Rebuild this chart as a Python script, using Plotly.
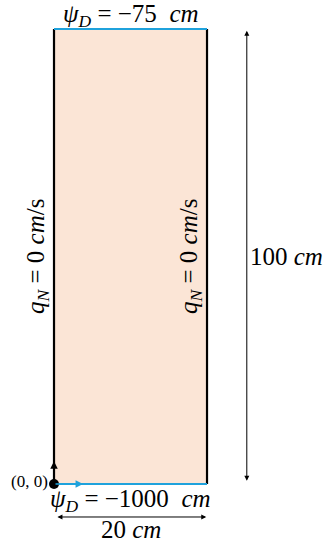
import plotly.graph_objects as go

# Domain data
domain_width = 20      # cm
domain_height = 100    # cm
psi_top = -75          # cm
psi_bottom = -1000     # cm
q_side = 0             # cm/s

rect_x = [0, domain_width, domain_width, 0, 0]
rect_y = [0, 0, domain_height, domain_height, 0]

FILL = "#fbe5d6"
BLUE = "#1fa2dc"
SERIF = "Liberation Serif"

fig = go.Figure()

fig.add_trace(go.Scatter(x=rect_x, y=rect_y, fill="toself", fillcolor=FILL,
                         mode="lines", line=dict(width=0), hoverinfo="skip"))
fig.add_trace(go.Scatter(x=[0, 0], y=[0, domain_height], mode="lines",
                         line=dict(color="black", width=2.2), hoverinfo="skip"))
fig.add_trace(go.Scatter(x=[domain_width, domain_width], y=[0, domain_height], mode="lines",
                         line=dict(color="black", width=2.2), hoverinfo="skip"))
fig.add_trace(go.Scatter(x=[0, domain_width], y=[domain_height, domain_height], mode="lines",
                         line=dict(color=BLUE, width=2.2), hoverinfo="skip"))
fig.add_trace(go.Scatter(x=[0, domain_width], y=[0, 0], mode="lines",
                         line=dict(color=BLUE, width=2.2), hoverinfo="skip"))
fig.add_trace(go.Scatter(x=[0], y=[0], mode="markers",
                         marker=dict(color="black", size=10), hoverinfo="skip"))

anns = []
anns.append(dict(x=3.8, y=0, ax=0, ay=0, xref="x", yref="y", axref="x", ayref="y",
                 showarrow=True, arrowhead=2, arrowsize=1, arrowwidth=1.5,
                 arrowcolor=BLUE, text=""))
anns.append(dict(x=0, y=5.0, ax=0, ay=0, xref="x", yref="y", axref="x", ayref="y",
                 showarrow=True, arrowhead=2, arrowsize=1, arrowwidth=1.5,
                 arrowcolor="black", text=""))
anns.append(dict(x=25.2, y=99.6, ax=25.2, ay=0.4, xref="x", yref="y", axref="x", ayref="y",
                 showarrow=True, arrowhead=2, startarrowhead=2, arrowside="end+start",
                 arrowsize=1, arrowwidth=1, arrowcolor="black", text=""))
anns.append(dict(x=19.9, y=-7.25, ax=0.25, ay=-7.25, xref="x", yref="y", axref="x", ayref="y",
                 showarrow=True, arrowhead=2, startarrowhead=2, arrowside="end+start",
                 arrowsize=1, arrowwidth=1, arrowcolor="black", text=""))

font = dict(family=SERIF, size=25, color="black")
anns.append(dict(x=domain_width / 2, y=domain_height, xref="x", yref="y", showarrow=False,
                 text=f"<i>ψ</i><sub><i>D</i></sub> = −{abs(psi_top)}  <i>cm</i>",
                 yanchor="bottom", yshift=-4, font=font))
anns.append(dict(x=domain_width / 2, y=0, xref="x", yref="y", showarrow=False,
                 text=f"<i>ψ</i><sub><i>D</i></sub> = −{abs(psi_bottom)}  <i>cm</i>",
                 yanchor="top", yshift=1, font=font))
anns.append(dict(x=domain_width / 2, y=-7.25, xref="x", yref="y", showarrow=False,
                 text=f"{domain_width} <i>cm</i>", yanchor="top", yshift=3, font=font))
anns.append(dict(x=25.2, y=domain_height / 2, xref="x", yref="y", showarrow=False,
                 text=f"{domain_height} <i>cm</i>", xanchor="left", xshift=1, font=font))
anns.append(dict(x=0, y=0, xref="x", yref="y", showarrow=False,
                 text="(0, 0)", xanchor="right", xshift=-4, yshift=3,
                 font=dict(family=SERIF, size=17, color="black")))
side_text = f"<i>q</i><sub><i>N</i></sub> = {q_side} <i>cm</i>/s"
anns.append(dict(x=0, y=domain_height / 2, xref="x", yref="y", showarrow=False,
                 text=side_text, textangle=-90, xanchor="right", xshift=1, font=font))
anns.append(dict(x=domain_width, y=domain_height / 2, xref="x", yref="y", showarrow=False,
                 text=side_text, textangle=-90, xanchor="right", xshift=1, font=font))

fig.update_layout(
    width=323, height=542,
    margin=dict(l=0, r=0, t=0, b=0),
    paper_bgcolor="white", plot_bgcolor="white",
    showlegend=False,
    annotations=anns,
    xaxis=dict(range=[-7.059, 35.16], visible=False, fixedrange=True),
    yaxis=dict(range=[-12.747, 106.37], visible=False, fixedrange=True),
)

fig.write_html("out.html", config={"staticPlot": True},
               post_script="document.body.style.margin='0';document.body.style.overflow='hidden';")
